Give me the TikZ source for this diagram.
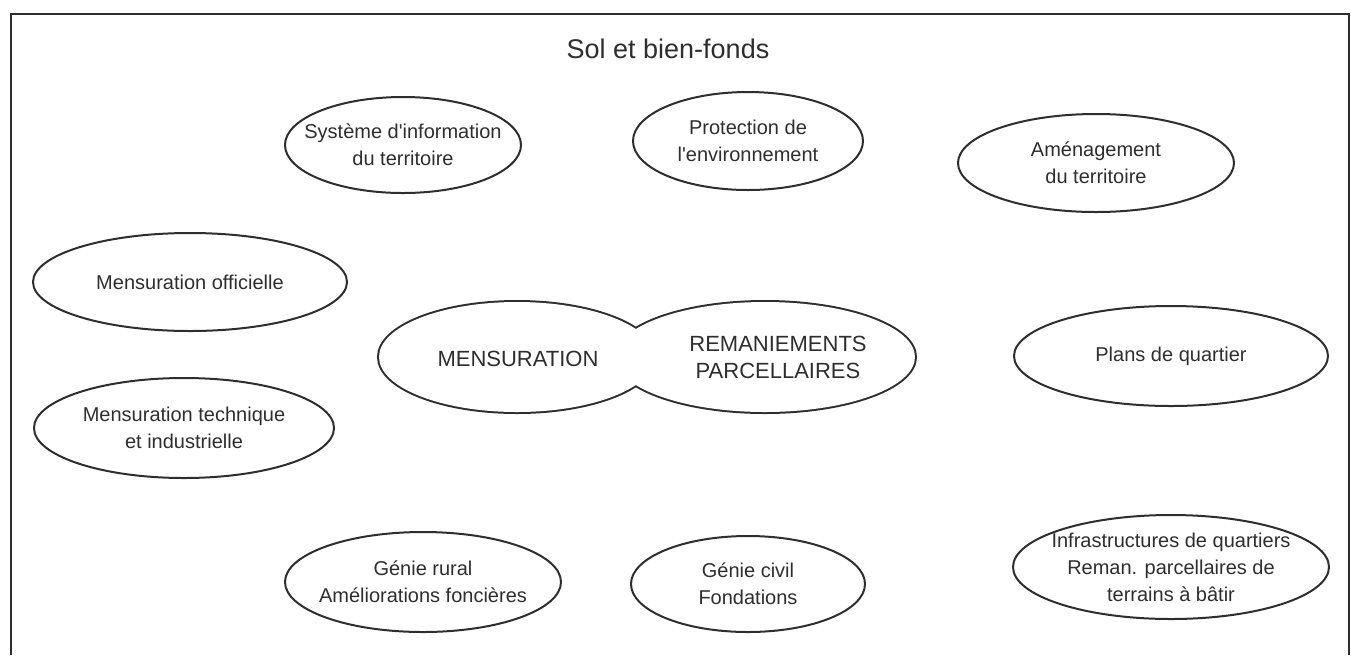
\documentclass[tikz,border=0pt]{standalone}
\usepackage{fontspec}
\setmainfont{Liberation Sans}
\usetikzlibrary{shapes.geometric}
\definecolor{ink}{HTML}{2E2E2E}

\begin{document}
\begin{tikzpicture}[x=0.5pt,y=-0.5pt,
	txt/.style={align=center,text=ink,inner sep=0pt,font=\fontsize{10}{13.5}\selectfont},
	bigtxt/.style={align=center,text=ink,inner sep=0pt,font=\fontsize{11}{13.5}\selectfont},
	bubble/.style={draw=ink,line width=1pt}]
			\useasboundingbox (0,0) rectangle (1351,655);
			\draw[ink,line width=1.2pt] (11,655)--(11,14)--(1349,14)--(1349,655);

			\node[text=ink,inner sep=0pt,font=\fontsize{13.5}{16}\selectfont] (title) at (668,49) {Sol et bien-fonds};

			\node[txt] (sit) at (403,145) {Système d\textquotesingle information\\du territoire};
			\draw[bubble] (sit.center) ellipse [x radius=118, y radius=48];

			\node[txt] (env) at (748,141) {Protection de\\l\textquotesingle environnement};
			\draw[bubble] (env.center) ellipse [x radius=115, y radius=49];

			\node[txt] (amen) at (1096,163) {Aménagement\\du territoire};
			\draw[bubble] (amen.center) ellipse [x radius=138, y radius=49];

			\node[txt] (mo) at (190,282) {Mensuration officielle};
			\draw[bubble] (mo.center) ellipse [x radius=157, y radius=49];

			\node[txt] (plans) at (1171,356) {Plans de quartier};
			\draw[bubble] (plans.center) ellipse [x radius=157, y radius=50];

			\node[txt] (mti) at (184,428) {Mensuration technique\\et industrielle};
			\draw[bubble] (mti.center) ellipse [x radius=150, y radius=50];

			\node[txt] (gr) at (423,582) {Génie rural\\Améliorations foncières};
			\draw[bubble] (gr.center) ellipse [x radius=138, y radius=50];

			\node[txt] (gc) at (748,584) {Génie civil\\Fondations};
			\draw[bubble] (gc.center) ellipse [x radius=117, y radius=48];

			\node[txt] (infra) at (1171,567) {Infrastructures de quartiers\\Reman. parcellaires de\\terrains à bâtir};
			\draw[bubble] (infra.center) ellipse [x radius=158, y radius=52];

			% double lobe: thick outline, inner half covered by the fill
			\coordinate (lobeL) at (517,357);
			\coordinate (lobeR) at (765,357);
			\draw[ink,line width=2pt] (lobeL) ellipse [x radius=138, y radius=55]
				(lobeR) ellipse [x radius=150, y radius=55];
			\fill[white] (lobeL) ellipse [x radius=138, y radius=55]
				(lobeR) ellipse [x radius=150, y radius=55];
			\node[bigtxt] (mens) at (518,359) {MENSURATION};
			\node[bigtxt] (reman) at (778,357) {REMANIEMENTS\\PARCELLAIRES};
		\end{tikzpicture}
\end{document}
